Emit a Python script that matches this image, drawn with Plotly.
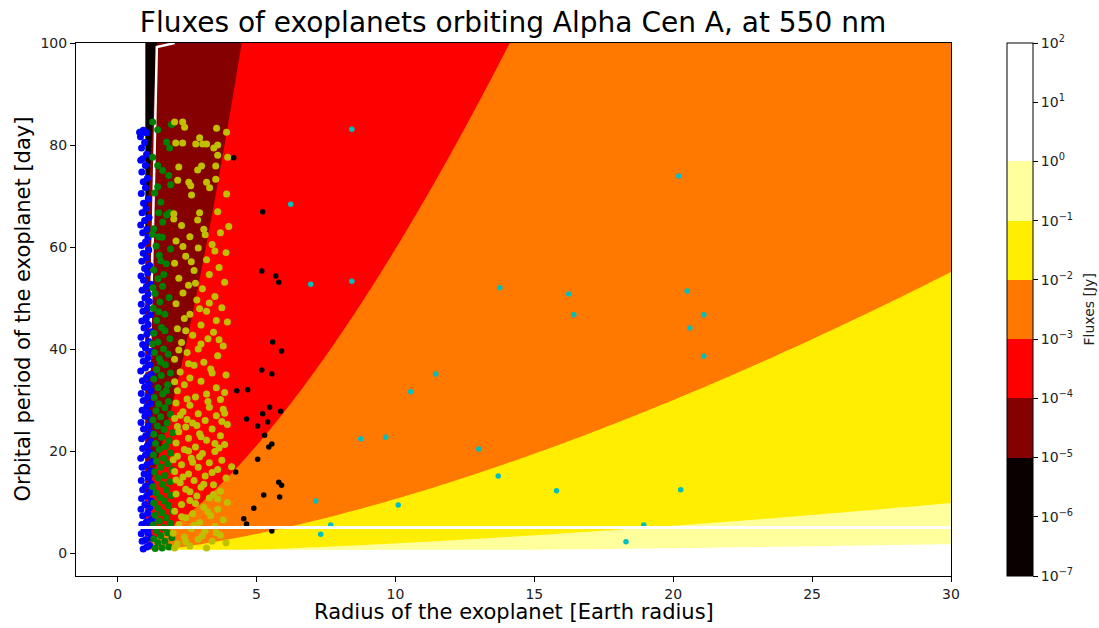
import numpy as np
import plotly.graph_objects as go

# ---------------- data ----------------
# flux model fitted to the contour boundaries: F = C * R^2 * P^(-4/3)  [Jy]
flux_const = 2.33e-3
radius_grid = np.linspace(1.0, 30.0, 300)
period_grid = np.linspace(0.5, 100.0, 400)

levels_log = [-7, -6, -5, -4, -3, -2, -1, 0, 1, 2]
tick_text = ["10<sup>−7</sup>", "10<sup>−6</sup>", "10<sup>−5</sup>", "10<sup>−4</sup>",
             "10<sup>−3</sup>", "10<sup>−2</sup>", "10<sup>−1</sup>", "10<sup>0</sup>",
             "10<sup>1</sup>", "10<sup>2</sup>"]

# white limit curves
limit_curve_x = [2.05, 1.41, 1.27, 1.15, 0.95]
limit_curve_y = [100.0, 99.2, 63.6, 36.0, 35.5]
iwa_line_x = [0.72, 30.0]
iwa_line_y = [5.0, 5.0]

# planets R < 1.25 (blue)
blue_x = [0.92, 1.05, 1.15, 0.88, 1.0, 1.2, 0.85, 1.1, 0.95, 1.18, 0.87, 1.03, 1.22, 0.9, 1.08, 0.84, 1.15, 0.98, 1.21, 0.86,
          1.04, 1.16, 0.9, 1.0, 1.2, 0.85, 1.1, 0.95, 1.19, 0.88, 1.05, 1.23, 0.83, 1.0, 1.14,
          0.9, 1.07, 1.2, 0.86, 1.01, 1.17, 0.93, 1.1, 0.84, 1.22, 0.98, 1.12, 0.88, 1.05, 1.19, 0.92,
          1.08, 0.85, 1.2, 0.97, 1.13, 0.89, 1.04, 1.21, 0.83, 1.0, 1.15, 0.92, 1.09, 0.86, 1.18,
          1.0, 0.9, 1.12, 0.84, 1.05, 1.2, 0.95, 1.1, 0.87, 1.02, 1.17, 0.91, 1.07, 0.85, 1.14,
          0.98, 1.1, 0.88, 1.03, 1.19, 0.93, 0.84, 1.08, 0.97, 1.15, 0.87, 1.04, 0.92, 1.12,
          0.86, 1.0, 1.09, 0.9, 1.05, 0.83, 0.97, 1.13, 0.88, 1.02, 0.93, 1.1,
          0.85, 1.0, 0.92, 1.07, 0.87, 1.0, 0.9, 1.04, 0.86, 0.97, 0.82, 1.05, 0.92, 0.79, 0.97, 0.83]
blue_y = [0.8, 1.2, 1.5, 2.3, 2.6, 2.9, 3.8, 4.0, 4.6, 5.2, 5.6, 6.1, 6.6, 7.3, 7.8, 8.6, 8.9, 9.5, 10.2, 10.7,
          11.2, 11.9, 12.4, 13.1, 13.6, 14.2, 14.8, 15.5, 16.1, 16.8, 17.3, 17.9, 18.6, 19.2, 19.8,
          20.5, 21.1, 21.8, 22.4, 23.0, 23.6, 24.3, 24.9, 25.6, 26.1, 26.8, 27.4, 28.0, 28.7, 29.3, 29.9,
          30.6, 31.3, 31.8, 32.5, 33.1, 33.8, 34.4, 35.0, 35.7, 36.3, 36.9, 37.6, 38.3, 39.0, 39.5,
          40.2, 40.9, 41.5, 42.3, 42.9, 43.4, 44.1, 44.8, 45.5, 46.1, 46.7, 47.4, 48.0, 48.8, 49.3,
          50.0, 50.8, 51.5, 52.2, 52.7, 53.5, 54.3, 54.9, 55.8, 56.4, 57.2, 57.9, 58.8, 59.4,
          60.3, 61.0, 61.9, 62.8, 63.5, 64.3, 65.2, 65.8, 66.7, 67.5, 68.6, 69.4,
          70.5, 71.6, 72.8, 73.5, 74.7, 76.0, 77.3, 78.2, 79.4, 80.5, 81.6, 82.4, 82.9, 82.5, 82.5, 77.0]

# planets 1.25 < R < 2 (green)
green_x = [1.35, 1.6, 1.85, 1.45, 1.7, 1.3, 1.95, 1.55, 1.8, 1.4, 1.65, 1.28, 1.9, 1.5, 1.75, 1.35, 1.6, 1.98, 1.45, 1.82, 1.3,
           1.68, 1.52, 1.92, 1.38, 1.75, 1.27, 1.6, 1.88, 1.45, 1.7, 1.33, 1.96, 1.55, 1.8, 1.4, 1.65, 1.29, 1.9,
           1.5, 1.72, 1.36, 1.85, 1.58, 1.3, 1.97, 1.66, 1.43, 1.78, 1.27, 1.55, 1.9, 1.38, 1.7, 1.48, 1.83,
           1.32, 1.62, 1.45, 1.8, 1.3, 1.57, 1.4, 1.72, 1.5, 1.33, 1.65, 1.45, 1.88, 1.3, 1.58,
           1.4, 1.7, 1.28, 1.52, 1.35, 1.62, 1.45, 1.3, 1.75, 1.5, 1.38, 1.6, 1.3, 1.48,
           1.75, 1.9, 1.55, 1.82, 1.25, 1.7, 1.48, 1.85, 1.27, 1.66, 1.55, 1.9, 1.25,
           1.26, 1.44, 1.94, 1.76, 1.87, 1.26, 1.44, 1.62, 1.84, 1.91, 1.44, 1.33, 1.55, 1.48, 1.76, 1.87, 1.62]
green_y = [0.9, 1.0, 1.2, 2.0, 2.3, 2.8, 3.0, 3.4, 4.0, 4.4, 5.0, 5.5, 5.8, 6.3, 6.9, 7.4, 7.9, 8.2, 8.8, 9.3, 9.8,
           10.2, 10.9, 11.3, 11.8, 12.4, 13.0, 13.5, 14.0, 14.7, 15.2, 15.9, 16.3, 16.8, 17.5, 18.0, 18.6, 19.2, 19.6,
           20.3, 20.9, 21.5, 22.0, 22.7, 23.3, 23.6, 24.2, 24.9, 25.5, 26.1, 26.7, 27.2, 27.9, 28.5, 29.2, 29.7,
           30.5, 31.2, 32.4, 33.0, 34.1, 34.8, 36.0, 36.9, 38.1, 39.3, 40.0, 41.4, 42.0, 43.1, 44.2,
           45.6, 46.8, 48.0, 49.2, 50.9, 52.3, 53.8, 55.5, 56.7, 58.4, 60.2, 61.9, 63.6, 62.0,
           31.8, 35.3, 37.4, 39.0, 41.0, 43.6, 47.3, 50.1, 52.0, 54.6, 57.3, 59.6, 62.5,
           84.5, 83.0, 84.0, 80.6, 79.4, 77.6, 76.0, 75.0, 74.0, 72.2, 71.8, 70.6, 68.8, 66.7, 66.3, 66.7, 64.9]

# planets 2 < R < 4 (olive yellow)
yellow_x = [2.05, 2.34, 2.41, 3.56, 3.92, 2.95, 2.09, 2.34, 2.81, 3.06, 3.2, 3.46, 3.6, 3.6, 3.96, 2.2, 3.02, 2.88, 3.53,
            2.16, 2.56, 2.63, 3.2, 3.31, 3.53, 2.66, 3.92, 2.95, 2.02, 2.02, 2.88, 3.6,
            2.3, 3.1, 3.7, 2.6, 2.1, 3.4, 2.9, 3.9, 2.45, 3.2, 2.05, 3.65, 2.75, 3.3, 2.2, 3.85, 2.55, 3.05, 2.35,
            3.5, 2.85, 2.1, 3.75, 3.2, 2.6, 2.4, 3.95, 3.0, 2.15, 3.45, 2.7, 3.25, 2.3, 3.8, 2.9, 2.5, 3.6, 2.05,
            3.1, 2.75, 3.35, 2.25, 3.9, 2.6, 3.0, 2.4, 3.55, 2.15, 3.2, 2.8, 3.7, 2.5, 2.95, 3.55, 2.45, 3.65,
            2.2, 3.4, 2.05, 3.85, 2.65, 3.5, 2.35, 3.15, 4.0, 2.8, 3.0, 2.55, 3.3,
            2.1, 2.6, 3.3, 3.8, 2.35, 2.9, 3.55, 2.05, 3.15, 2.7, 3.95, 2.45, 3.4, 2.2, 2.95, 3.7, 2.55, 3.2,
            2.1, 3.85, 2.8, 2.4, 3.5, 3.05, 2.15, 2.65, 3.75, 3.3, 2.3, 2.9, 3.6, 2.05, 2.55, 3.15, 3.9, 2.75,
            2.25, 3.45, 3.0, 2.45, 3.7, 2.1, 2.85, 3.3, 2.6, 3.95, 2.3, 3.1, 3.6, 2.05, 2.7, 3.35, 2.45, 3.8,
            2.95, 2.2, 3.5, 2.65, 3.15, 2.0, 3.7, 2.4, 2.9, 3.4, 2.15, 2.6, 3.2, 3.9, 2.05, 3.55, 2.8, 3.45,
            2.35, 3.65, 2.5, 3.25, 2.15, 3.0, 2.7, 3.4, 2.3, 3.05, 2.55, 3.85, 2.85, 2.0, 3.6, 2.45, 4.1, 2.25,
            3.1, 2.75, 3.5, 3.25, 2.6, 3.75, 2.1, 2.95]
yellow_y = [84.5, 84.5, 83.5, 83.3, 82.5, 81.4, 80.4, 80.4, 80.2, 80.2, 80.2, 79.4, 80.0, 78.0, 77.6, 75.7, 75.9, 75.1, 75.9,
            73.1, 72.7, 72.0, 72.7, 71.6, 73.3, 70.2, 70.4, 66.7, 66.5, 65.5, 65.3, 66.9,
            64.2, 63.5, 62.8, 62.0, 61.2, 60.5, 59.8, 58.9, 58.2, 57.5, 56.8, 56.0, 55.4, 54.6, 53.9, 53.1, 52.5, 51.8, 51.0,
            50.3, 49.6, 48.9, 48.1, 47.4, 46.8, 46.0, 45.3, 44.7, 44.0, 43.3, 42.7, 42.0, 41.3, 40.6, 40.0, 39.3, 38.7, 38.0,
            37.4, 36.8, 36.1, 35.5, 34.9, 34.3, 33.7, 33.0, 32.4, 31.8, 31.2, 30.6, 30.1, 30.2, 47.9, 45.6, 43.6, 41.8,
            39.8, 35.3, 33.6, 31.5, 57.1, 59.2, 60.1, 62.4, 64.0, 52.9, 41.0, 37.1, 49.0,
            29.4, 29.0, 28.6, 28.2, 27.7, 27.3, 26.9, 26.4, 26.0, 25.5, 25.2, 24.7, 24.3, 23.8, 23.4, 23.0, 22.5, 22.1,
            21.6, 21.3, 20.8, 20.3, 19.9, 19.5, 19.0, 18.6, 18.2, 17.7, 17.3, 16.8, 16.4, 16.0, 15.5, 15.1, 14.7, 14.2,
            13.8, 13.4, 12.9, 12.5, 12.1, 11.6, 11.2, 10.8, 10.3, 9.9, 9.5, 9.0, 8.6, 8.2, 7.7, 7.3, 6.9, 6.5,
            6.0, 5.6, 5.2, 4.8, 4.3, 3.9, 3.5, 3.1, 2.7, 2.3, 1.8, 1.4, 1.0, 2.0, 1.0, 4.0, 9.7, 11.5,
            14.9, 20.6, 26.2, 29.7, 24.8, 22.8, 17.8, 15.8, 7.1, 3.4, 20.0, 27.4, 25.0, 18.3, 10.6, 2.2, 16.9, 27.0,
            13.5, 5.4, 21.5, 8.1, 12.0, 25.8, 14.3, 18.9]

# planets 4 < R < 6 (black)
black_x = [4.18, 5.22, 5.19, 5.69, 5.8, 5.58, 5.9, 5.19, 5.55, 4.68, 4.29, 5.47, 5.87, 5.22, 5.4, 5.04, 5.29,
           5.55, 5.44, 5.04, 4.25, 5.8, 5.9, 5.26, 5.83, 4.9, 4.54, 4.64, 5.55, 4.64]
black_y = [77.5, 66.9, 55.3, 54.3, 53.1, 41.4, 39.6, 35.9, 35.1, 32.0, 31.8, 28.6, 27.8, 27.3, 25.7, 24.9, 23.1,
           21.4, 20.8, 18.4, 15.9, 13.9, 13.3, 11.4, 11.0, 8.8, 6.7, 5.7, 4.3, 26.3]

# planets R > 6 (cyan)
cyan_x = [8.43, 6.23, 6.95, 8.43, 13.76, 16.24, 16.42, 20.2, 20.5, 20.6, 21.1, 21.1, 11.45, 10.55, 8.75, 9.65,
          13.0, 13.7, 15.8, 20.27, 10.1, 7.13, 7.67, 7.31, 18.94, 18.3]
cyan_y = [83.1, 68.4, 52.7, 53.3, 52.0, 50.8, 46.7, 73.9, 51.4, 44.1, 46.7, 38.6, 35.1, 31.6, 22.4, 22.7,
          20.4, 15.1, 12.2, 12.4, 9.4, 10.2, 5.5, 3.7, 5.5, 2.2]

# ---------------- colours ----------------
C_BLACK = "#0b0000"
C_DRED = "#850000"
C_RED = "#ff0000"
C_ORANGE = "#ff7800"
C_YELLOW = "#ffee00"
C_LYELLOW = "#ffff9b"
C_WHITE = "#ffffff"
band_colors = [C_BLACK, C_DRED, C_RED, C_ORANGE, C_YELLOW, C_LYELLOW, C_WHITE]
band_edges = [-7, -5, -4, -3, -2, -1, 0, 2]   # log10 flux


def stepped_scale(lo, hi):
    scale = []
    for i, col in enumerate(band_colors):
        a = (band_edges[i] - lo) / (hi - lo) if i > 0 else 0.0
        b = (band_edges[i + 1] - lo) / (hi - lo) if i < len(band_colors) - 1 else 1.0
        scale.append([max(0.0, a), col])
        scale.append([min(1.0, b), col])
    return scale


R, P = np.meshgrid(radius_grid, period_grid)
logF = np.log10(flux_const * R ** 2 * P ** (-4.0 / 3.0))

fig = go.Figure()

# contour (plotly maps fill colours on [start - size/2, end + size/2])
fig.add_trace(go.Contour(
    x=radius_grid, y=period_grid, z=logF,
    contours=dict(start=levels_log[0], end=levels_log[-1], size=1, coloring="fill", showlines=False),
    line=dict(width=0),
    colorscale=stepped_scale(levels_log[0] - 0.5, levels_log[-1] + 0.5),
    showscale=False, hoverinfo="skip",
))

# hide the hairline that the renderer leaves along the bottom edge of the filled grid
fig.add_trace(go.Scatter(x=[radius_grid[0], radius_grid[-1]], y=[period_grid[0], period_grid[0]],
                         mode="lines", line=dict(color="white", width=1.6),
                         hoverinfo="skip", showlegend=False))

# colour bar carrier (outside the visible range)
fig.add_trace(go.Heatmap(
    x=[-60, -59], y=[-60, -59], z=[[levels_log[0], levels_log[-1]], [levels_log[0], levels_log[-1]]],
    zmin=levels_log[0], zmax=levels_log[-1],
    colorscale=stepped_scale(levels_log[0], levels_log[-1]),
    hoverinfo="skip",
    colorbar=dict(
        x=(1007 - 76) / 875, xanchor="left", xpad=0, ypad=0,
        y=0.5, yanchor="middle", len=1, lenmode="fraction",
        thickness=26, thicknessmode="pixels",
        outlinewidth=1, outlinecolor="black",
        tickmode="array", tickvals=levels_log, ticktext=tick_text,
        ticks="outside", ticklen=5, tickcolor="black",
        tickfont=dict(family="DejaVu Sans", size=14, color="#222222"),
    ),
))

fig.add_trace(go.Scatter(x=limit_curve_x, y=limit_curve_y, mode="lines",
                         line=dict(color="white", width=2.5), hoverinfo="skip", showlegend=False))

for xs, ys, col, sz in [(blue_x, blue_y, "#0000ff", 7), (green_x, green_y, "#008000", 7),
                        (yellow_x, yellow_y, "#bfbf00", 7), (black_x, black_y, "#000000", 5.5),
                        (cyan_x, cyan_y, "#00bfbf", 5.5)]:
    fig.add_trace(go.Scatter(x=xs, y=ys, mode="markers",
                             marker=dict(color=col, size=sz, line=dict(width=0)),
                             hoverinfo="skip", showlegend=False))

fig.add_trace(go.Scatter(x=iwa_line_x, y=iwa_line_y, mode="lines",
                         line=dict(color="white", width=3), hoverinfo="skip", showlegend=False))

axis_common = dict(showline=True, mirror=True, linecolor="black", linewidth=1,
                   ticks="outside", ticklen=5, tickcolor="black", showgrid=False, zeroline=False,
                   tickfont=dict(family="DejaVu Sans", size=14, color="#222222"))

fig.update_layout(
    width=1099, height=628,
    margin=dict(l=76, r=148, t=43, b=52),
    paper_bgcolor="white", plot_bgcolor="white",
    showlegend=False,
    font=dict(family="DejaVu Sans"),
    title=dict(text="Fluxes of exoplanets orbiting Alpha Cen A, at 550 nm",
               x=(513 / 1099), xanchor="center", xref="container",
               y=1 - 22 / 628, yanchor="middle", yref="container",
               font=dict(family="DejaVu Sans", size=28, color="black")),
    xaxis=dict(range=[-1.5, 30], tickvals=[0, 5, 10, 15, 20, 25, 30], **axis_common),
    yaxis=dict(range=[-4.5, 100], tickvals=[0, 20, 40, 60, 80, 100], **axis_common),
    annotations=[
        dict(text="Radius of the exoplanet [Earth radius]", xref="paper", yref="paper",
             x=0.5, y=-(612 - 576) / 533, xanchor="center", yanchor="middle", showarrow=False,
             font=dict(family="DejaVu Sans", size=21, color="black")),
        dict(text="Orbital period of the exoplanet [day]", xref="paper", yref="paper",
             x=(22 - 76) / 875, y=0.5, xanchor="center", yanchor="middle", textangle=-90, showarrow=False,
             font=dict(family="DejaVu Sans", size=21, color="black")),
        dict(text="Fluxes [Jy]", xref="paper", yref="paper",
             x=(1088 - 76) / 875, y=0.5, xanchor="center", yanchor="middle", textangle=-90, showarrow=False,
             font=dict(family="DejaVu Sans", size=14, color="#222222")),
    ],
)

fig.write_html("out.html")
